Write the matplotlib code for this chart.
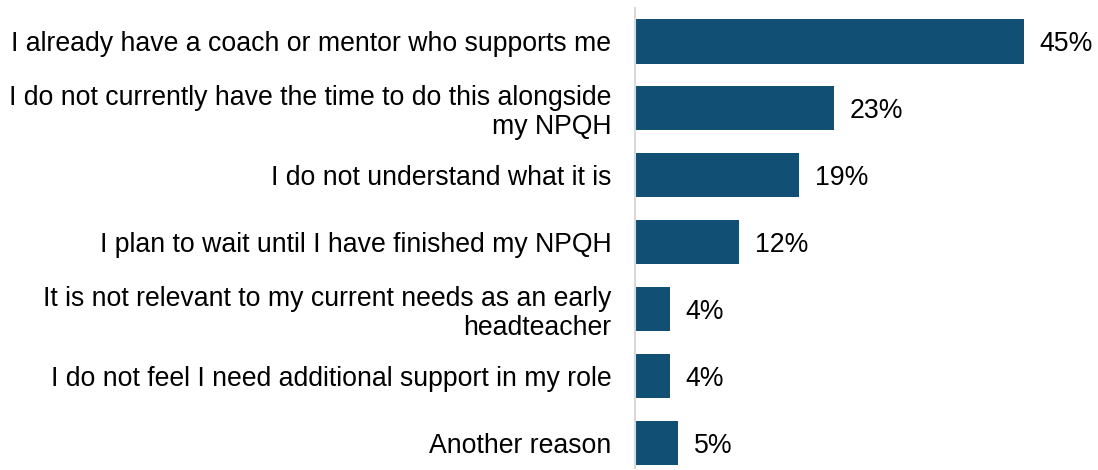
import matplotlib
matplotlib.use('Agg')
import matplotlib.pyplot as plt

# reasons for not taking up the offer, share of respondents (%)
reasons = [
    "I already have a coach or mentor who supports me",
    "I do not currently have the time to do this alongside\nmy NPQH",
    "I do not understand what it is",
    "I plan to wait until I have finished my NPQH",
    "It is not relevant to my current needs as an early\nheadteacher",
    "I do not feel I need additional support in my role",
    "Another reason",
]
shares = [45, 23, 19, 12, 4, 4, 5]

BAR_COLOR = "#114f75"
FONT = 19.2

plt.rcParams['font.family'] = ['Liberation Sans', 'DejaVu Sans']

fig = plt.figure(figsize=(10.98, 4.70), dpi=100)
W, H = 1098, 470
ax = fig.add_axes([635 / W, 2 / H, (W - 635) / W, 460 / H])

y = list(range(len(reasons)))
ax.barh(y, shares, height=0.66, color=BAR_COLOR, edgecolor='none')

for yi, v in zip(y, shares):
    ax.text(v + 1.85, yi, f"{v}%", va='center_baseline', ha='left',
            fontsize=FONT)

ax.set_yticks(y)
ax.set_yticklabels(reasons, fontsize=FONT, linespacing=1.12, ha='right')
ax.tick_params(axis='y', length=0, pad=17)
ax.set_xticks([])
ax.set_xlim(0, (W - 635) / 8.64)
ax.set_ylim(6 + 25 / 66.8, -0.5)

for side in ['top', 'right', 'bottom']:
    ax.spines[side].set_visible(False)
ax.spines['left'].set_color('#d9d9d9')
ax.spines['left'].set_linewidth(1.5)

fig.savefig('out.png', dpi=100)
